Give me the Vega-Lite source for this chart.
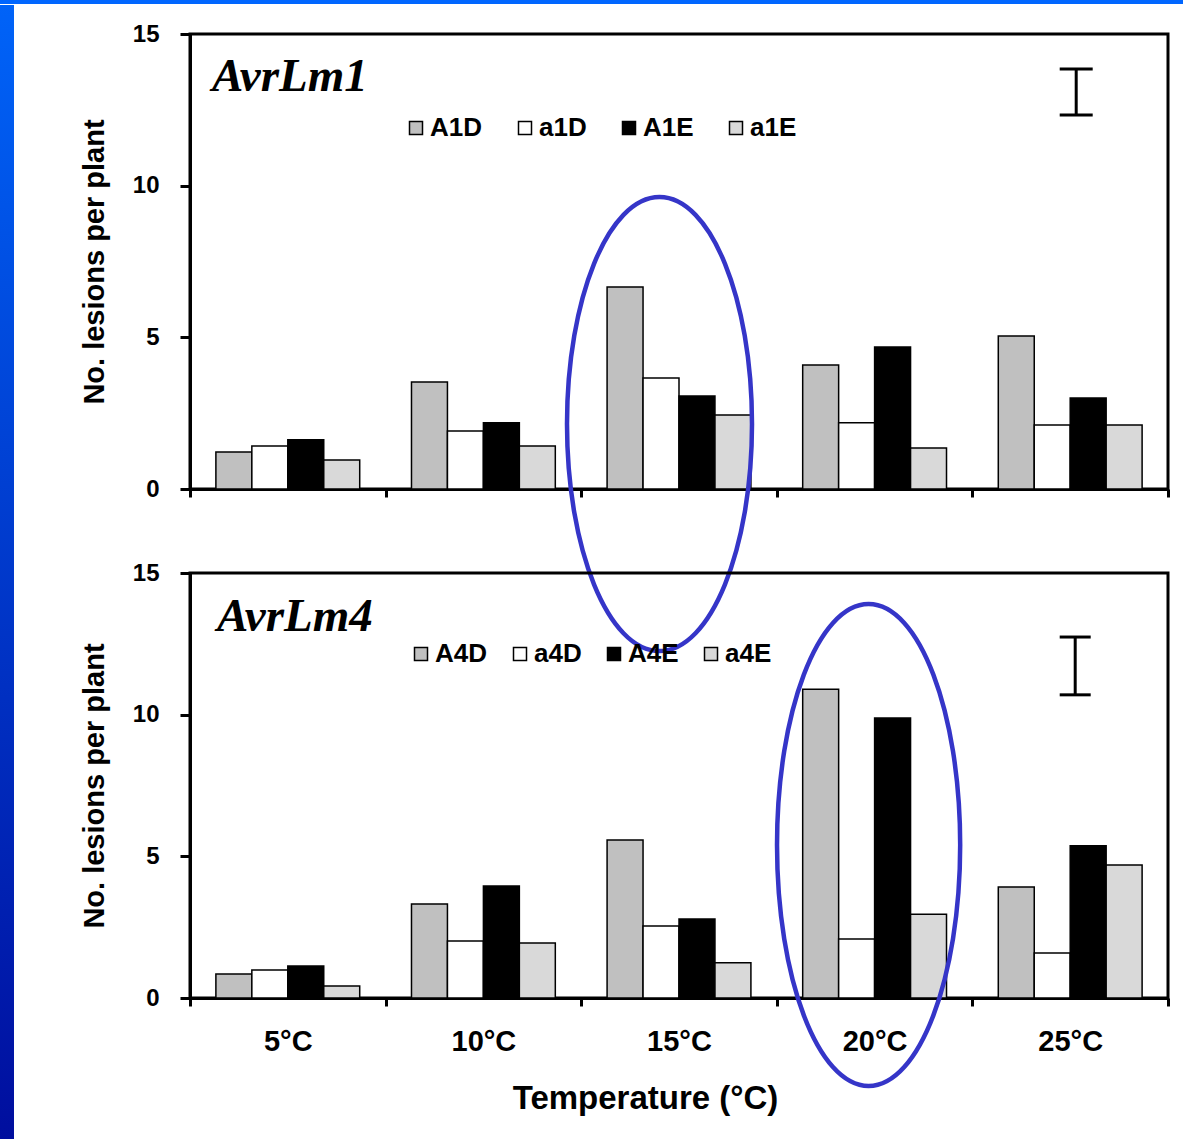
{
  "$schema": "https://vega.github.io/schema/vega-lite/v6.json",
  "background": "white",
  "padding": 0,
  "spacing": 0,
  "config": {
    "view": {"stroke": null},
    "axis": {
      "labelFont": "Liberation Sans", "titleFont": "Liberation Sans",
      "labelFontWeight": "bold", "titleFontWeight": "bold",
      "labelColor": "black", "titleColor": "black",
      "domainColor": "black", "tickColor": "black",
      "domainWidth": 3, "tickWidth": 3, "grid": false
    },
    "legend": {
      "labelFont": "Liberation Sans", "labelFontWeight": "bold", "labelColor": "black",
      "labelFontSize": 26, "symbolType": "square", "symbolSize": 169,
      "symbolStrokeColor": "black", "symbolStrokeWidth": 1.5, "labelOffset": 1,
      "padding": 0, "direction": "horizontal", "orient": "none", "title": null
    }
  },
  "vconcat": [
    {
      "width": 1183, "height": 4,
      "data": {"values": [{"band": "top"}]},
      "mark": {"type": "rect", "color": "#0066ff"},
      "encoding": {}
    },
    {
      "columns": 2,
      "align": "none",
      "spacing": 64,
      "concat": [
        {
          "width": 14, "height": 1106,
          "data": {"values": [{"bottom": 0, "top": 1135}]},
          "mark": {"type": "rect", "color": {"gradient": "linear", "x1": 0, "y1": 0, "x2": 0, "y2": 1,
            "stops": [{"offset": 0, "color": "#0063f8"}, {"offset": 1, "color": "#000e9e"}]}},
          "encoding": {
            "y": {"field": "bottom", "type": "quantitative", "scale": {"domain": [0, 1106], "nice": false, "zero": false}, "axis": null},
            "y2": {"field": "top"}
          }
        },
        {
          "title": {"text": " ", "fontSize": 10, "offset": 5},
          "bounds": "flush",
          "spacing": 84,
          "resolve": {"scale": {"x": "independent", "y": "independent", "fill": "independent", "xOffset": "independent"}, "legend": {"fill": "independent"}},
          "vconcat": [
            {
              "width": 978, "height": 455,
              "view": {"stroke": "black", "strokeWidth": 3},
              "layer": [
                {
                  "data": {"values": [
                    {"temp": "5°C", "geno": "A1D", "v": 1.22}, {"temp": "5°C", "geno": "a1D", "v": 1.42}, {"temp": "5°C", "geno": "A1E", "v": 1.62}, {"temp": "5°C", "geno": "a1E", "v": 0.96},
                    {"temp": "10°C", "geno": "A1D", "v": 3.53}, {"temp": "10°C", "geno": "a1D", "v": 1.91}, {"temp": "10°C", "geno": "A1E", "v": 2.18}, {"temp": "10°C", "geno": "a1E", "v": 1.42},
                    {"temp": "15°C", "geno": "A1D", "v": 6.66}, {"temp": "15°C", "geno": "a1D", "v": 3.66}, {"temp": "15°C", "geno": "A1E", "v": 3.07}, {"temp": "15°C", "geno": "a1E", "v": 2.44},
                    {"temp": "20°C", "geno": "A1D", "v": 4.09}, {"temp": "20°C", "geno": "a1D", "v": 2.18}, {"temp": "20°C", "geno": "A1E", "v": 4.68}, {"temp": "20°C", "geno": "a1E", "v": 1.35},
                    {"temp": "25°C", "geno": "A1D", "v": 5.04}, {"temp": "25°C", "geno": "a1D", "v": 2.11}, {"temp": "25°C", "geno": "A1E", "v": 3.0}, {"temp": "25°C", "geno": "a1E", "v": 2.11}
                  ]},
                  "mark": {"type": "bar", "stroke": "black", "strokeWidth": 1.5},
                  "encoding": {
                    "x": {"field": "temp", "type": "nominal",
                      "scale": {"domain": ["5°C", "10°C", "15°C", "20°C", "25°C"], "paddingInner": 0, "paddingOuter": 0},
                      "axis": {"labels": false, "title": null, "tickBand": "extent", "tickSize": 8}},
                    "xOffset": {"field": "geno", "type": "nominal",
                      "scale": {"domain": ["A1D", "a1D", "A1E", "a1E"], "paddingInner": 0, "paddingOuter": 0.72}},
                    "y": {"field": "v", "type": "quantitative",
                      "scale": {"domain": [0, 15], "nice": false},
                      "axis": {"values": [0, 5, 10, 15], "labelFontSize": 24, "tickSize": 10, "labelPadding": 21,
                        "title": "No. lesions per plant", "titleFontSize": 29, "titlePadding": 23}},
                    "fill": {"field": "geno", "type": "nominal",
                      "scale": {"domain": ["A1D", "a1D", "A1E", "a1E"], "range": ["#c0c0c0", "#ffffff", "#000000", "#d9d9d9"]},
                      "legend": {"legendX": 213, "legendY": 81, "columnPadding": 29}}
                  }
                },
                {
                  "data": {"values": [{"temp": "5°C", "v": 13.12, "label": "AvrLm1"}]},
                  "mark": {"type": "text", "font": "Liberation Serif", "fontWeight": "bold", "fontStyle": "italic", "fontSize": 47, "align": "left", "baseline": "alphabetic", "color": "black", "dx": 22},
                  "encoding": {
                    "x": {"field": "temp", "type": "nominal", "bandPosition": 0},
                    "y": {"field": "v", "type": "quantitative"},
                    "text": {"field": "label"}
                  }
                },
                {
                  "data": {"values": [{"temp": "25°C", "lo": 12.33, "hi": 13.85}]},
                  "mark": {"type": "rule", "color": "black", "strokeWidth": 3, "xOffset": 6},
                  "encoding": {
                    "x": {"field": "temp", "type": "nominal"},
                    "y": {"field": "lo", "type": "quantitative"},
                    "y2": {"field": "hi"}
                  }
                },
                {
                  "data": {"values": [{"temp": "25°C", "lo": 12.33, "hi": 13.85}]},
                  "mark": {"type": "tick", "color": "black", "size": 33, "thickness": 3, "opacity": 1, "xOffset": 6},
                  "encoding": {
                    "x": {"field": "temp", "type": "nominal"},
                    "y": {"field": "lo", "type": "quantitative"}
                  }
                },
                {
                  "data": {"values": [{"temp": "25°C", "lo": 12.33, "hi": 13.85}]},
                  "mark": {"type": "tick", "color": "black", "size": 33, "thickness": 3, "opacity": 1, "xOffset": 6},
                  "encoding": {
                    "x": {"field": "temp", "type": "nominal"},
                    "y": {"field": "hi", "type": "quantitative"}
                  }
                },
                {
                  "data": {"values": [{"temp": "15°C", "v": 2.14}]},
                  "mark": {"type": "point", "shape": "M0,-1A0.4075,1 0 1,1 0,1A0.4075,1 0 1,1 0,-1Z", "size": 206116, "filled": false, "stroke": "#3535c8", "strokeWidth": 4.5, "opacity": 1, "strokeOpacity": 1, "xOffset": -19.5},
                  "encoding": {
                    "x": {"field": "temp", "type": "nominal"},
                    "y": {"field": "v", "type": "quantitative"}
                  }
                }
              ]
            },
            {
              "width": 978, "height": 425,
              "view": {"stroke": "black", "strokeWidth": 3},
              "layer": [
                {
                  "data": {"values": [
                    {"temp": "5°C", "geno": "A4D", "v": 0.85}, {"temp": "5°C", "geno": "a4D", "v": 0.99}, {"temp": "5°C", "geno": "A4E", "v": 1.13}, {"temp": "5°C", "geno": "a4E", "v": 0.42},
                    {"temp": "10°C", "geno": "A4D", "v": 3.32}, {"temp": "10°C", "geno": "a4D", "v": 2.01}, {"temp": "10°C", "geno": "A4E", "v": 3.95}, {"temp": "10°C", "geno": "a4E", "v": 1.94},
                    {"temp": "15°C", "geno": "A4D", "v": 5.58}, {"temp": "15°C", "geno": "a4D", "v": 2.54}, {"temp": "15°C", "geno": "A4E", "v": 2.79}, {"temp": "15°C", "geno": "a4E", "v": 1.24},
                    {"temp": "20°C", "geno": "A4D", "v": 10.9}, {"temp": "20°C", "geno": "a4D", "v": 2.08}, {"temp": "20°C", "geno": "A4E", "v": 9.88}, {"temp": "20°C", "geno": "a4E", "v": 2.96},
                    {"temp": "25°C", "geno": "A4D", "v": 3.92}, {"temp": "25°C", "geno": "a4D", "v": 1.59}, {"temp": "25°C", "geno": "A4E", "v": 5.37}, {"temp": "25°C", "geno": "a4E", "v": 4.69}
                  ]},
                  "mark": {"type": "bar", "stroke": "black", "strokeWidth": 1.5},
                  "encoding": {
                    "x": {"field": "temp", "type": "nominal",
                      "scale": {"domain": ["5°C", "10°C", "15°C", "20°C", "25°C"], "paddingInner": 0, "paddingOuter": 0},
                      "axis": {"labelAngle": 0, "labelFontSize": 29, "labelPadding": 21, "tickBand": "extent", "tickSize": 8,
                        "title": "Temperature (°C)", "titleFontSize": 33, "titlePadding": 26, "titleX": 455}},
                    "xOffset": {"field": "geno", "type": "nominal",
                      "scale": {"domain": ["A4D", "a4D", "A4E", "a4E"], "paddingInner": 0, "paddingOuter": 0.72}},
                    "y": {"field": "v", "type": "quantitative",
                      "scale": {"domain": [0, 15], "nice": false},
                      "axis": {"values": [0, 5, 10, 15], "labelFontSize": 24, "tickSize": 10, "labelPadding": 21,
                        "title": "No. lesions per plant", "titleFontSize": 29, "titlePadding": 23}},
                    "fill": {"field": "geno", "type": "nominal",
                      "scale": {"domain": ["A4D", "a4D", "A4E", "a4E"], "range": ["#c0c0c0", "#ffffff", "#000000", "#d9d9d9"]},
                      "legend": {"legendX": 218, "legendY": 68, "columnPadding": 19}}
                  }
                },
                {
                  "data": {"values": [{"temp": "5°C", "v": 12.95, "label": "AvrLm4"}]},
                  "mark": {"type": "text", "font": "Liberation Serif", "fontWeight": "bold", "fontStyle": "italic", "fontSize": 47, "align": "left", "baseline": "alphabetic", "color": "black", "dx": 27},
                  "encoding": {
                    "x": {"field": "temp", "type": "nominal", "bandPosition": 0},
                    "y": {"field": "v", "type": "quantitative"},
                    "text": {"field": "label"}
                  }
                },
                {
                  "data": {"values": [{"temp": "25°C", "lo": 10.7, "hi": 12.74}]},
                  "mark": {"type": "rule", "color": "black", "strokeWidth": 3, "xOffset": 5},
                  "encoding": {
                    "x": {"field": "temp", "type": "nominal"},
                    "y": {"field": "lo", "type": "quantitative"},
                    "y2": {"field": "hi"}
                  }
                },
                {
                  "data": {"values": [{"temp": "25°C", "lo": 10.7, "hi": 12.74}]},
                  "mark": {"type": "tick", "color": "black", "size": 31, "thickness": 3, "opacity": 1, "xOffset": 5},
                  "encoding": {
                    "x": {"field": "temp", "type": "nominal"},
                    "y": {"field": "lo", "type": "quantitative"}
                  }
                },
                {
                  "data": {"values": [{"temp": "25°C", "lo": 10.7, "hi": 12.74}]},
                  "mark": {"type": "tick", "color": "black", "size": 31, "thickness": 3, "opacity": 1, "xOffset": 5},
                  "encoding": {
                    "x": {"field": "temp", "type": "nominal"},
                    "y": {"field": "hi", "type": "quantitative"}
                  }
                },
                {
                  "data": {"values": [{"temp": "20°C", "v": 5.4}]},
                  "mark": {"type": "point", "shape": "M0,-1A0.38,1 0 1,1 0,1A0.38,1 0 1,1 0,-1Z", "size": 232324, "filled": false, "stroke": "#3535c8", "strokeWidth": 4.5, "opacity": 1, "strokeOpacity": 1, "xOffset": -6},
                  "encoding": {
                    "x": {"field": "temp", "type": "nominal"},
                    "y": {"field": "v", "type": "quantitative"}
                  }
                }
              ]
            }
          ]
        }
      ]
    }
  ]
}
